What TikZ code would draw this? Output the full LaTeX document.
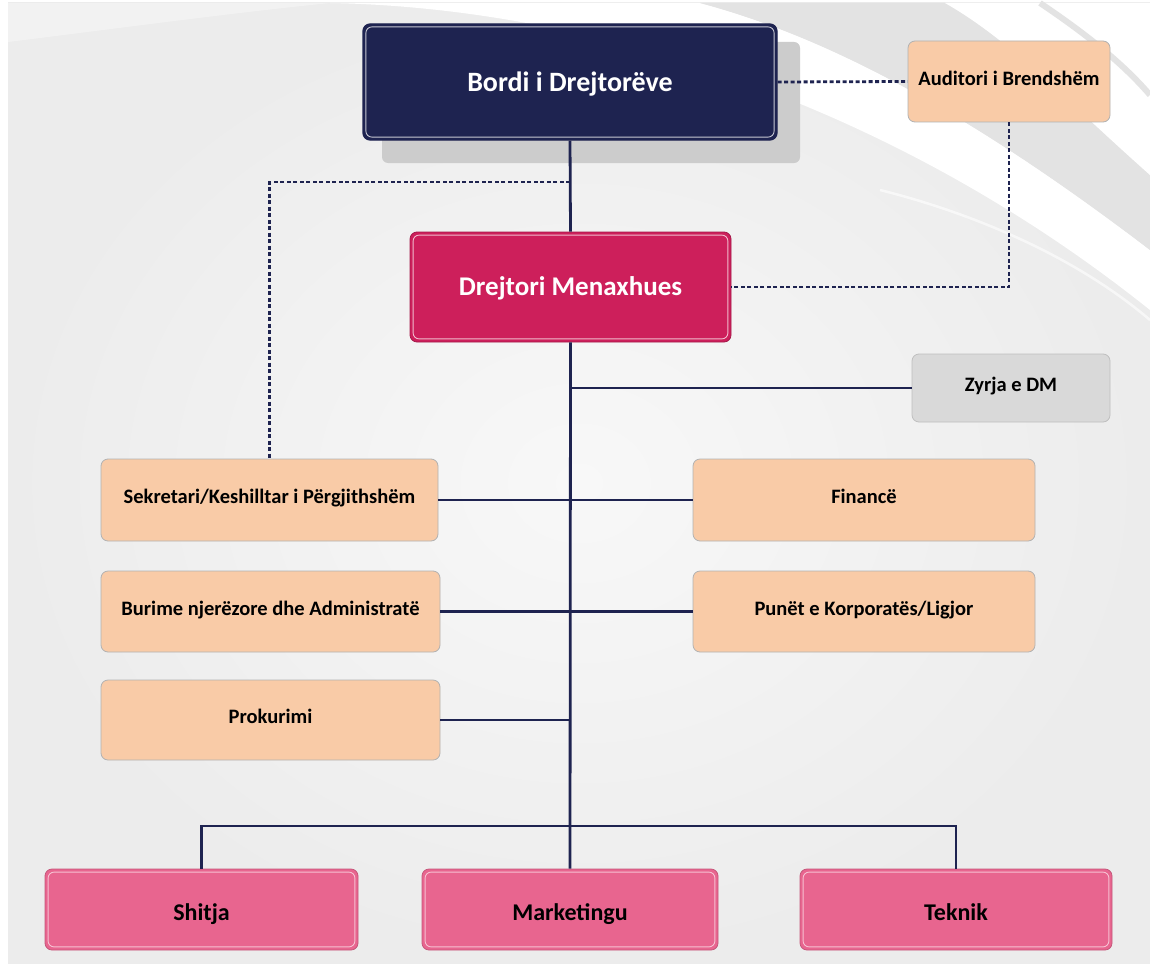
\documentclass[tikz,border=0pt]{standalone}
\usepackage{fontspec}
\setmainfont{Carlito}
\definecolor{navy}{HTML}{1E2350}
\definecolor{crimson}{HTML}{CD1F5B}
\definecolor{rose}{HTML}{E8658F}
\definecolor{peach}{HTML}{F9CBA7}
\definecolor{office}{HTML}{D9D9D9}
\definecolor{shadowgray}{HTML}{CCCCCC}
\definecolor{bgmid}{HTML}{F8F8F8}
\definecolor{bgedge}{HTML}{ECECEC}
\definecolor{bandgray}{HTML}{E3E3E3}
\tikzset{
  unit/.style={rounded corners=7pt, inner sep=0pt, align=center},
  board/.style={unit, fill=navy, draw=navy, line width=1.2pt, text=white,
    font=\bfseries\fontsize{28}{32}\selectfont, text height=27pt, text depth=7pt},
  md/.style={unit, fill=crimson, draw=crimson!80!black, line width=0.8pt, text=white,
    font=\bfseries\fontsize{27}{31}\selectfont, text height=24.4pt, text depth=7pt},
  dept/.style={unit, fill=peach, draw=black!30, line width=0.8pt, text=black,
    font=\bfseries\fontsize{20.5}{24}\selectfont, text height=12.2pt, text depth=5pt},
  office/.style={unit, fill=office, draw=black!25, line width=0.8pt, text=black,
    font=\bfseries\fontsize{20.5}{24}\selectfont, text height=12.2pt, text depth=5pt},
  unitb/.style={unit, fill=rose, draw=rose!85!black, line width=0.8pt, text=black,
    font=\bfseries\fontsize{24}{28}\selectfont, text height=28.5pt, text depth=6pt},
  link/.style={draw=navy, line width=2.8pt},
  dotlink/.style={draw=navy, line width=2.8pt, dash pattern=on 4pt off 2.5pt},
}
\newcommand\innerframe[2]{%
  \draw[#2, line width=0.9pt, rounded corners=6pt]
    ([shift={(3.5pt,-3.5pt)}]#1.north west) rectangle ([shift={(-3.5pt,3.5pt)}]#1.south east);}
\begin{document}
\begin{tikzpicture}[x=1pt,y=-1pt]
  % page and background
  \fill[white] (0,0) rectangle (1150,963);
  \useasboundingbox (0,0) rectangle (1150,963);
  \shade[inner color=bgmid, outer color=bgedge] (8,3) rectangle (1150,963);
  % soft swooshes across the top
  \fill[white, opacity=0.35] (8,3) -- (8,42) .. controls (120,28) and (240,12) .. (330,3) -- cycle;
  \fill[white] (330,3) .. controls (600,8) and (900,110) .. (1150,310)
     -- (1150,250) .. controls (960,105) and (820,35) .. (700,3) -- cycle;
  \fill[bandgray] (700,3) .. controls (820,35) and (960,105) .. (1150,250)
     -- (1150,175) .. controls (1060,95) and (1010,40) .. (945,3) -- cycle;
  \fill[white] (945,3) .. controls (1010,40) and (1060,95) .. (1150,175) -- (1150,3) -- cycle;
  \draw[bandgray, line width=6pt] (1040,3) .. controls (1080,30) and (1120,60) .. (1150,95);
  \draw[white, opacity=0.6, line width=2.5pt] (880,190) .. controls (980,215) and (1080,260) .. (1150,320);

  % shadow behind the board
  \fill[shadowgray, rounded corners=6pt] (382,42) rectangle (800,163);

  % boxes
  \node[board, minimum width=414pt, minimum height=116pt] (bod) at (570,82) {Bordi i Drejtorëve};
  \node[dept, minimum width=202pt, minimum height=81pt] (aud) at (1009,81.5) {Auditori i Brendshëm};
  \node[md, minimum width=321pt, minimum height=110pt] (dm) at (570.5,287) {Drejtori Menaxhues};
  \node[office, minimum width=198pt, minimum height=68pt] (zy) at (1011,388) {Zyrja e DM};
  \node[dept, minimum width=337pt, minimum height=82pt] (sek) at (269.5,500) {Sekretari/Keshilltar i Përgjithshëm};
  \node[dept, minimum width=342pt, minimum height=82pt] (fin) at (864,500) {Financë};
  \node[dept, minimum width=339pt, minimum height=81pt] (bur) at (270.5,611.5) {Burime njerëzore dhe Administratë};
  \node[dept, minimum width=342pt, minimum height=81pt] (pun) at (864,611.5) {Punët e Korporatës/Ligjor};
  \node[dept, minimum width=339pt, minimum height=80pt] (pro) at (270.5,720) {Prokurimi};
  \node[unitb, minimum width=313pt, minimum height=81pt] (shi) at (201.5,909.5) {Shitja};
  \node[unitb, minimum width=296pt, minimum height=81pt] (mkt) at (570,909.5) {Marketingu};
  \node[unitb, minimum width=312pt, minimum height=81pt] (tek) at (956,909.5) {Teknik};

  \innerframe{bod}{white!75!navy}
  \innerframe{dm}{white!70!crimson}
  \innerframe{shi}{white!60!rose}
  \innerframe{mkt}{white!60!rose}
  \innerframe{tek}{white!60!rose}

  % reporting lines
  \coordinate (tap) at (570,182);
  \coordinate (bus) at (570,826);
  \draw[link] (bod.south) -- (dm.north);
  \draw[link] (dm.south) -- (mkt.north);
  \draw[link] (zy.west -| dm.south) -- (zy.west);
  \draw[link] (sek.east) -- (sek.east -| dm.south);
  \draw[link] (fin.west) -- (fin.west -| dm.south);
  \draw[link] (bur.east) -- (bur.east -| dm.south);
  \draw[link] (pun.west) -- (pun.west -| dm.south);
  \draw[link] (pro.east) -- (pro.east -| dm.south);
  \draw[link] (shi.north) |- (bus) -| (tek.north);

  % dotted advisory lines
  \draw[dotlink] (bod.east) -- (aud.west);
  \draw[dotlink] (aud.south) |- (dm.east);
  \draw[dotlink] (tap) -| (sek.north);
\end{tikzpicture}
\end{document}
